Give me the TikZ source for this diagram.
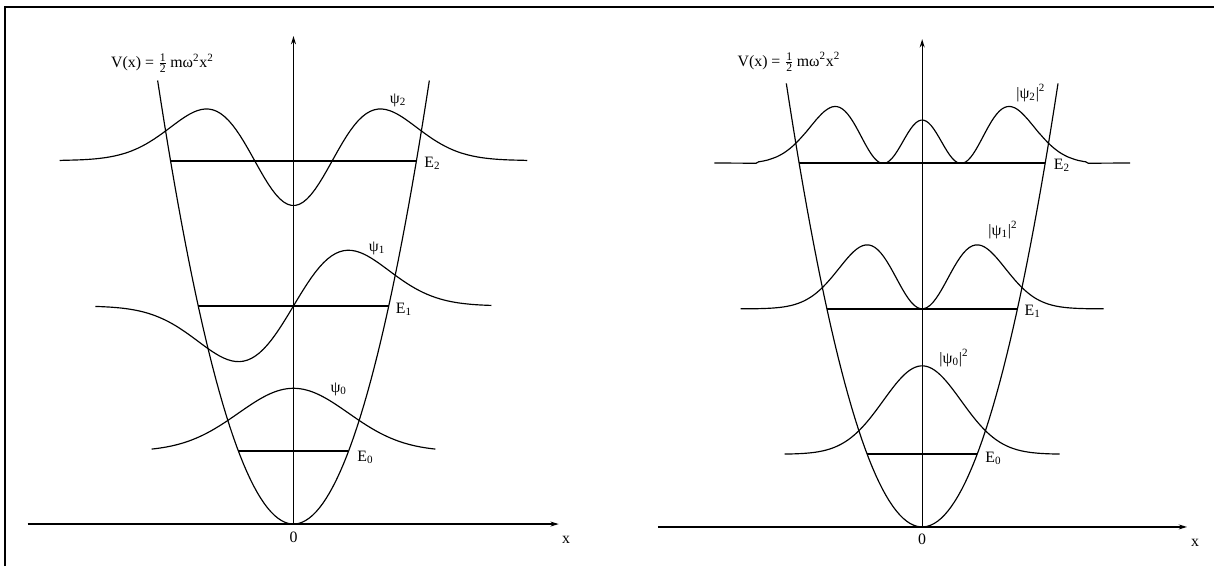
\documentclass[tikz,border=0pt]{standalone}
\usepackage{fontspec}
\setmainfont{Liberation Serif}
\usetikzlibrary{arrows.meta}

\begin{document}
\begin{tikzpicture}[x=33pt, y=43.62pt,
        level/.style={line width=1.2pt},
        curve/.style={line width=0.7pt},
        lbl/.style={font=\fontsize{9.5}{11}\selectfont, inner sep=1pt},
        >={Stealth[length=5pt, width=3pt]}]
    \useasboundingbox (-5.336,-0.578) rectangle (16.736,7.208);

    % Frame (top and left edge only)
    \draw[line width=1.2pt] (-5.251,-0.578) -- (-5.251,7.115) -- (16.736,7.115);

    % ---------- Left: wave functions
    \begin{scope}
        % Axes
        \draw[->, curve] (-4.833,0) -- (4.822,0);
        \draw[->, curve] (0,0) -- (0,6.713);
        \node[lbl] (xL) at (4.955,-0.216) {x};
        \node[lbl] (oL) at (0,-0.179) {0};

        % Potential
        \draw[curve] plot[domain=-2.47:2.47, samples=80] (\x, {(\x)*(\x)});
        \node[lbl] (VL) at (-2.382,6.341)
            {V(x) = $\frac{\mbox{\scriptsize 1}}{\mbox{\scriptsize 2}}$\,mω\textsuperscript{2}x\textsuperscript{2}};

        % Energy levels
        \foreach \n in {0,1,2}
            \draw[level] ({-sqrt(2*\n+1)},{2*\n+1}) -- ({sqrt(2*\n+1)},{2*\n+1});
        \node[lbl] (E0L) at (1.309,0.922) {E\textsubscript{0}};
        \node[lbl] (E1L) at (2.009,2.948) {E\textsubscript{1}};
        \node[lbl] (E2L) at (2.527,4.966) {E\textsubscript{2}};

        % Wave functions, drawn on their levels
        \draw[curve] plot[domain=-2.58:2.58, samples=100]
            (\x, {1+0.867*exp(-(\x)*(\x)/2)});
        \draw[curve] plot[domain=-3.6:3.6, samples=100]
            (\x, {3+1.263*(\x)*exp(-(\x)*(\x)/2)});
        \draw[curve] plot[domain=-4.25:4.25, samples=120]
            (\x, {5+0.619*(2*(\x)*(\x)-1)*exp(-(\x)*(\x)/2)});
        \node[lbl] (psi0) at (0.822,1.857) {ψ\textsubscript{0}};
        \node[lbl] (psi1) at (1.518,3.796) {ψ\textsubscript{1}};
        \node[lbl] (psi2) at (1.9,5.83) {ψ\textsubscript{2}};
    \end{scope}

    % ---------- Right: probability densities
    \begin{scope}[shift={(11.43,-0.04)}]
        % Axes
        \draw[->, curve] (-4.804,0) -- (4.815,0);
        \draw[->, curve] (0,0) -- (0,6.71);
        \node[lbl] (xR) at (4.96,-0.22) {x};
        \node[lbl] (oR) at (0,-0.175) {0};

        % Potential
        \draw[curve] plot[domain=-2.47:2.47, samples=80] (\x, {(\x)*(\x)});
        \node[lbl] (VR) at (-2.422,6.396)
            {V(x) = $\frac{\mbox{\scriptsize 1}}{\mbox{\scriptsize 2}}$\,mω\textsuperscript{2}x\textsuperscript{2}};

        % Energy levels
        \foreach \n in {0,1,2}
            \draw[level] ({-sqrt(2*\n+1)},{2*\n+1}) -- ({sqrt(2*\n+1)},{2*\n+1});
        \node[lbl] (E0R) at (1.296,0.939) {E\textsubscript{0}};
        \node[lbl] (E1R) at (2.009,2.971) {E\textsubscript{1}};
        \node[lbl] (E2R) at (2.542,4.979) {E\textsubscript{2}};

        % Densities |psi_n|^2
        \draw[curve] plot[domain=-2.5:2.5, samples=100]
            (\x, {1+1.216*exp(-(\x)*(\x))});
        \draw[curve] plot[domain=-3.3:3.3, samples=120]
            (\x, {3+2.393*(\x)*(\x)*exp(-(\x)*(\x))});
        \draw[curve] plot[domain=-3.78:3.78, samples=160]
            (\x, {5+0.597*(2*(\x)*(\x)-1)*(2*(\x)*(\x)-1)*exp(-(\x)*(\x))});
        \node[lbl] (rho0) at (0.578,2.325) {|ψ\textsubscript{0}|\textsuperscript{2}};
        \node[lbl] (rho1) at (1.469,4.085) {|ψ\textsubscript{1}|\textsuperscript{2}};
        \node[lbl] (rho2) at (1.976,5.97) {|ψ\textsubscript{2}|\textsuperscript{2}};
    \end{scope}

\end{tikzpicture}
\end{document}
